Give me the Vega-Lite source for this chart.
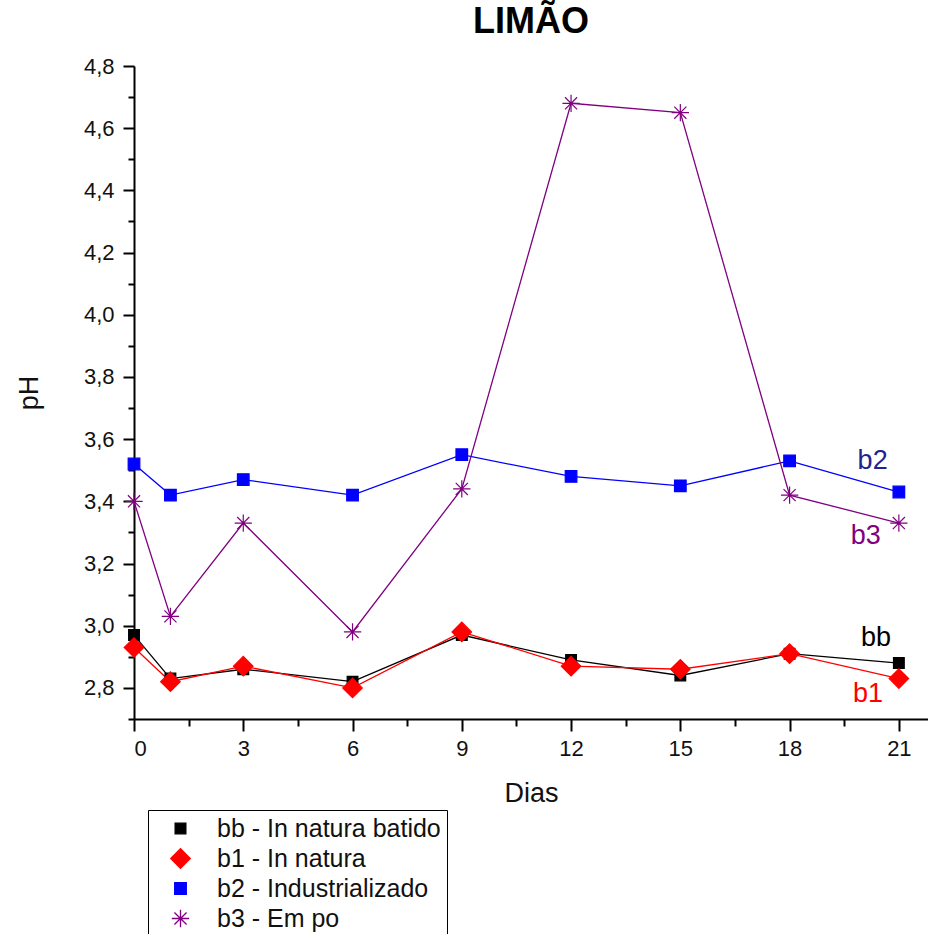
{
  "$schema": "https://vega.github.io/schema/vega-lite/v6.json",
  "width": 794,
  "height": 653,
  "autosize": {"type": "none"},
  "padding": {"left": 134, "top": 66, "right": 0, "bottom": 215},
  "config": {
    "view": {"stroke": null},
    "font": "Liberation Sans",
    "axis": {"grid": false, "domainColor": "black", "domainWidth": 2, "tickColor": "black", "tickWidth": 2, "labelColor": "#111", "labelFont": "Liberation Sans", "labelFontSize": 22, "titleFont": "Liberation Sans", "titleFontSize": 27, "titleFontWeight": "normal", "titleColor": "#111", "labelOverlap": false}
  },
  "title": {"text": "LIMÃO", "fontSize": 36, "fontWeight": "bold", "font": "Liberation Sans", "anchor": "middle", "baseline": "alphabetic", "offset": 17, "dy": 31, "color": "black"},
  "resolve": {"axis": {"x": "independent", "y": "independent"}},
  "datasets": {
    "ph": [
      {"dia": 0, "ph": 2.97, "serie": "bb - In natura batido"},
      {"dia": 1, "ph": 2.83, "serie": "bb - In natura batido"},
      {"dia": 3, "ph": 2.86, "serie": "bb - In natura batido"},
      {"dia": 6, "ph": 2.82, "serie": "bb - In natura batido"},
      {"dia": 9, "ph": 2.97, "serie": "bb - In natura batido"},
      {"dia": 12, "ph": 2.89, "serie": "bb - In natura batido"},
      {"dia": 15, "ph": 2.84, "serie": "bb - In natura batido"},
      {"dia": 18, "ph": 2.91, "serie": "bb - In natura batido"},
      {"dia": 21, "ph": 2.88, "serie": "bb - In natura batido"},
      {"dia": 0, "ph": 2.93, "serie": "b1 - In natura"},
      {"dia": 1, "ph": 2.82, "serie": "b1 - In natura"},
      {"dia": 3, "ph": 2.87, "serie": "b1 - In natura"},
      {"dia": 6, "ph": 2.80, "serie": "b1 - In natura"},
      {"dia": 9, "ph": 2.98, "serie": "b1 - In natura"},
      {"dia": 12, "ph": 2.87, "serie": "b1 - In natura"},
      {"dia": 15, "ph": 2.86, "serie": "b1 - In natura"},
      {"dia": 18, "ph": 2.91, "serie": "b1 - In natura"},
      {"dia": 21, "ph": 2.83, "serie": "b1 - In natura"},
      {"dia": 0, "ph": 3.52, "serie": "b2 - Industrializado"},
      {"dia": 1, "ph": 3.42, "serie": "b2 - Industrializado"},
      {"dia": 3, "ph": 3.47, "serie": "b2 - Industrializado"},
      {"dia": 6, "ph": 3.42, "serie": "b2 - Industrializado"},
      {"dia": 9, "ph": 3.55, "serie": "b2 - Industrializado"},
      {"dia": 12, "ph": 3.48, "serie": "b2 - Industrializado"},
      {"dia": 15, "ph": 3.45, "serie": "b2 - Industrializado"},
      {"dia": 18, "ph": 3.53, "serie": "b2 - Industrializado"},
      {"dia": 21, "ph": 3.43, "serie": "b2 - Industrializado"},
      {"dia": 0, "ph": 3.40, "serie": "b3 - Em po"},
      {"dia": 1, "ph": 3.03, "serie": "b3 - Em po"},
      {"dia": 3, "ph": 3.33, "serie": "b3 - Em po"},
      {"dia": 6, "ph": 2.98, "serie": "b3 - Em po"},
      {"dia": 9, "ph": 3.44, "serie": "b3 - Em po"},
      {"dia": 12, "ph": 4.68, "serie": "b3 - Em po"},
      {"dia": 15, "ph": 4.65, "serie": "b3 - Em po"},
      {"dia": 18, "ph": 3.42, "serie": "b3 - Em po"},
      {"dia": 21, "ph": 3.33, "serie": "b3 - Em po"}
    ],
    "rotulos": [
      {"dia": 20.28, "ph": 3.53, "lab": "b2"},
      {"dia": 20.09, "ph": 3.29, "lab": "b3"},
      {"dia": 20.37, "ph": 2.96, "lab": "bb"},
      {"dia": 20.15, "ph": 2.78, "lab": "b1"}
    ]
  },
  "layer": [
    {
      "data": {"name": "ph"},
      "mark": {"type": "point", "opacity": 0},
      "encoding": {
        "x": {"field": "dia", "type": "quantitative", "scale": {"domain": [0, 21.8], "nice": false, "zero": false},
          "axis": {"orient": "bottom", "title": null, "labels": false, "domain": false, "tickSize": 7,
            "values": [1.5, 4.5, 7.5, 10.5, 13.5, 16.5, 19.5]}},
        "y": {"field": "ph", "type": "quantitative", "scale": {"domain": [2.7, 4.8], "nice": false, "zero": false},
          "axis": {"orient": "left", "title": null, "labels": false, "domain": false, "tickSize": 6,
            "values": [2.7, 2.9, 3.1, 3.3, 3.5, 3.7, 3.9, 4.1, 4.3, 4.5, 4.7]}}
      }
    },
    {
      "data": {"name": "ph"},
      "mark": {"type": "line", "strokeWidth": 1.3, "clip": false},
      "encoding": {
        "x": {"field": "dia", "type": "quantitative",
          "axis": {"orient": "bottom", "title": "Dias", "titlePadding": 21, "titleFontSize": 27, "labelFontSize": 22,
            "values": [0, 3, 6, 9, 12, 15, 18, 21], "format": "d",
            "tickSize": 12, "labelPadding": 7}},
        "y": {"field": "ph", "type": "quantitative",
          "axis": {"orient": "left", "title": "pH", "titlePadding": 40, "titleFontSize": 27, "labelFontSize": 22,
            "values": [2.8, 3.0, 3.2, 3.4, 3.6, 3.8, 4.0, 4.2, 4.4, 4.6, 4.8],
            "labelExpr": "replace(format(datum.value, '.1f'), '.', ',')",
            "tickSize": 11, "labelPadding": 9}},
        "stroke": {"field": "serie", "type": "nominal",
          "scale": {"domain": ["bb - In natura batido", "b1 - In natura", "b2 - Industrializado", "b3 - Em po"], "range": ["#000000", "#ff0000", "#0000ff", "#800080"]},
          "legend": {"title": null, "orient": "none", "legendX": 14, "legendY": 744, "strokeColor": "black", "padding": 6, "labelFontSize": 25, "labelFont": "Liberation Sans", "labelColor": "#111", "rowPadding": 4, "labelLimit": 400, "symbolStrokeWidth": 1.3, "symbolOffset": 14, "labelOffset": 24, "fillColor": "white"}},
        "detail": {"field": "serie"}
      }
    },
    {
      "data": {"name": "ph"},
      "mark": {"type": "point", "strokeWidth": 1.2, "opacity": 1, "clip": false},
      "encoding": {
        "x": {"field": "dia", "type": "quantitative", "axis": null},
        "y": {"field": "ph", "type": "quantitative", "axis": null},
        "stroke": {"field": "serie", "type": "nominal"},
        "fill": {"field": "serie", "type": "nominal",
          "scale": {"domain": ["bb - In natura batido", "b1 - In natura", "b2 - Industrializado", "b3 - Em po"], "range": ["#000000", "#ff0000", "#0000ff", "transparent"]}},
        "shape": {"field": "serie", "type": "nominal",
          "scale": {"domain": ["bb - In natura batido", "b1 - In natura", "b2 - Industrializado", "b3 - Em po"], "range": ["square", "diamond", "square", "M0,-1L0,1M-1,0L1,0M-0.7,-0.7L0.7,0.7M-0.7,0.7L0.7,-0.7"]}},
        "size": {"field": "serie", "type": "nominal",
          "scale": {"type": "ordinal", "domain": ["bb - In natura batido", "b1 - In natura", "b2 - Industrializado", "b3 - Em po"], "range": [115, 380, 135, 300]}}
      }
    },
    {
      "data": {"name": "rotulos"},
      "mark": {"type": "text", "fontSize": 27, "font": "Liberation Sans", "align": "center", "baseline": "middle"},
      "encoding": {
        "x": {"field": "dia", "type": "quantitative", "axis": null},
        "y": {"field": "ph", "type": "quantitative", "axis": null},
        "text": {"field": "lab"},
        "color": {"field": "lab", "type": "nominal", "legend": null,
          "scale": {"domain": ["b2", "b3", "bb", "b1"], "range": ["#23238e", "#800080", "#000000", "#ff0000"]}}
      }
    }
  ]
}
